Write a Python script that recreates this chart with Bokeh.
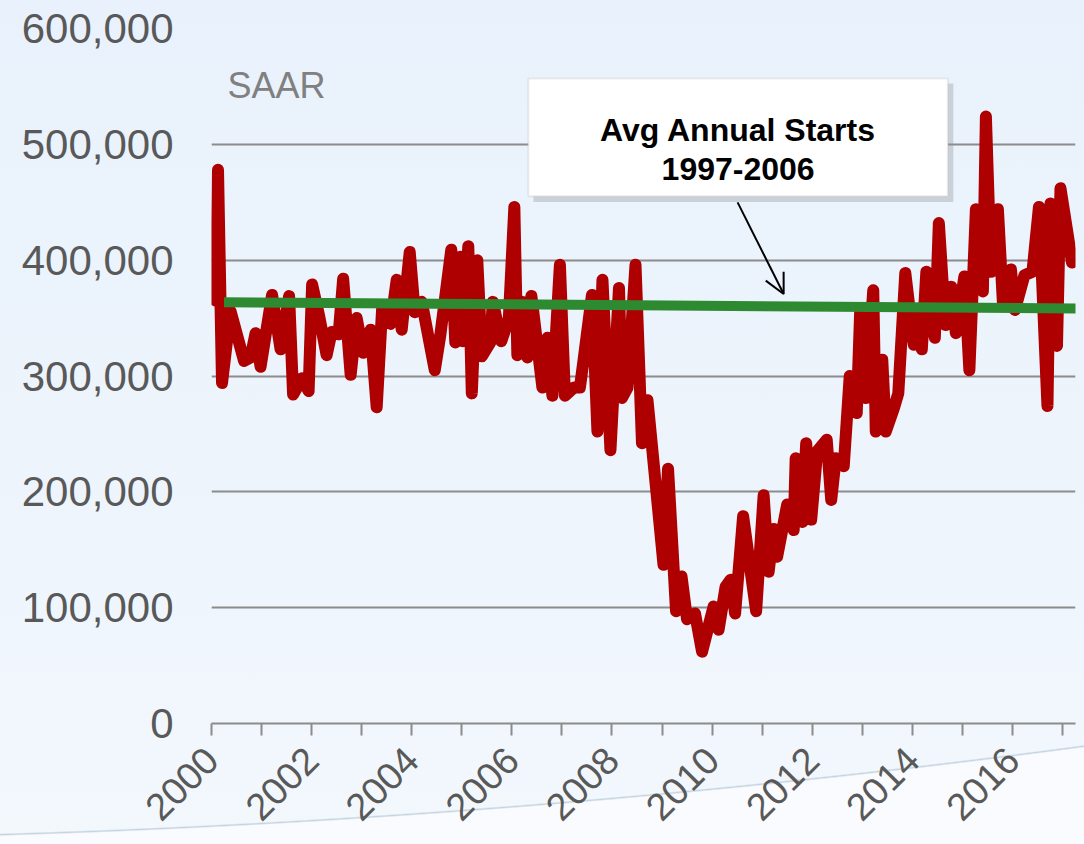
import math
from bokeh.plotting import figure
from bokeh.models import (Range1d, FixedTicker, NumeralTickFormatter, Label,
                          BoxAnnotation, Arrow, OpenHead)
from bokeh.embed import file_html
from bokeh.resources import INLINE

# ---- data ----
dates = [2000.08, 2000.13, 2000.21, 2000.38, 2000.65, 2000.78, 2000.88, 2000.98,
         2001.21, 2001.38, 2001.55, 2001.63, 2001.81, 2001.94, 2002.01, 2002.15,
         2002.30, 2002.40, 2002.54, 2002.63, 2002.78, 2002.90, 2003.03, 2003.18,
         2003.30, 2003.41, 2003.58, 2003.70, 2003.80, 2003.96, 2004.06, 2004.20,
         2004.46, 2004.57, 2004.79, 2004.87, 2004.97, 2005.02, 2005.13, 2005.20,
         2005.31, 2005.40, 2005.57, 2005.62, 2005.79, 2005.94, 2006.05, 2006.11,
         2006.21, 2006.31, 2006.39, 2006.61, 2006.71, 2006.81, 2006.96, 2007.06,
         2007.24, 2007.36, 2007.43, 2007.60, 2007.71, 2007.81, 2007.97, 2008.14,
         2008.20, 2008.31, 2008.47, 2008.60, 2008.71, 2009.03, 2009.12, 2009.28,
         2009.39, 2009.50, 2009.66, 2009.80, 2010.03, 2010.13, 2010.27, 2010.37,
         2010.46, 2010.62, 2010.88, 2011.03, 2011.13, 2011.23, 2011.30, 2011.50,
         2011.63, 2011.67, 2011.80, 2011.88, 2011.98, 2012.10, 2012.29, 2012.38,
         2012.47, 2012.63, 2012.75, 2012.89, 2012.96, 2013.07, 2013.22, 2013.27,
         2013.40, 2013.47, 2013.63, 2013.72, 2013.86, 2014.03, 2014.12, 2014.19,
         2014.28, 2014.45, 2014.53, 2014.66, 2014.78, 2014.87, 2015.04, 2015.14,
         2015.27, 2015.41, 2015.47, 2015.57, 2015.71, 2015.81, 2015.97, 2016.05,
         2016.24, 2016.40, 2016.53, 2016.70, 2016.76, 2016.89, 2016.96, 2017.09,
         2017.19]

starts = [365000, 478000, 294000, 356000, 313000, 316000, 337000, 308000,
          370000, 323000, 369000, 284000, 298000, 287000, 379000, 352000,
          318000, 338000, 336000, 384000, 301000, 350000, 320000, 340000,
          273000, 359000, 345000, 383000, 340000, 407000, 355000, 364000,
          305000, 335000, 409000, 329000, 403000, 330000, 412000, 285000,
          400000, 317000, 329000, 364000, 330000, 350000, 446000, 318000,
          364000, 316000, 369000, 290000, 333000, 283000, 396000, 283000,
          290000, 290000, 313000, 370000, 252000, 383000, 236000, 376000,
          281000, 290000, 396000, 242000, 279000, 137000, 220000, 97000,
          127000, 90000, 95000, 62000, 101000, 81000, 118000, 124000,
          95000, 179000, 97000, 197000, 131000, 168000, 144000, 189000,
          167000, 229000, 174000, 242000, 176000, 235000, 245000, 193000,
          229000, 222000, 300000, 268000, 358000, 281000, 374000, 252000,
          314000, 252000, 272000, 285000, 389000, 327000, 358000, 323000,
          390000, 333000, 432000, 344000, 377000, 337000, 386000, 305000,
          444000, 373000, 524000, 390000, 444000, 363000, 392000, 357000,
          387000, 390000, 446000, 274000, 449000, 326000, 462000, 426000,
          398000]

avg_x = [2000.25, 2017.45]
avg_y = [363700, 358200]

year_ticks = [2000, 2002, 2004, 2006, 2008, 2010, 2012, 2014, 2016]
odd_year_ticks = [2001, 2003, 2005, 2007, 2009, 2011, 2013, 2015, 2017]
y_ticks = [0, 100000, 200000, 300000, 400000, 500000, 600000]

FONT = "Liberation Sans"
GRID = "#8C8C8C"
LABEL = "#595959"

p = figure(width=1084, height=844,
           x_range=Range1d(2000, 2017.26), y_range=Range1d(0, 600000),
           output_backend="svg", toolbar_location=None,
           min_border_left=211, min_border_right=9,
           min_border_top=28, min_border_bottom=121,
           background_fill_color=None, border_fill_color=None,
           outline_line_color=None)
p.styles = {"background": (
    "radial-gradient(circle 10630px at -321px -9789px, rgba(255,255,255,0) 10627px, "
    "#C4D3E0 10628.5px, #F9FBFE 10630px, #F9FBFE 10700px), "
    "linear-gradient(180deg, #E9F2FC 0%, #EDF4FC 55%, #F3F8FD 100%)")}

# grid
p.xgrid.grid_line_color = None
p.ygrid.ticker = FixedTicker(ticks=y_ticks)
p.ygrid.grid_line_color = GRID
p.ygrid.grid_line_width = 2

# y axis
p.yaxis.ticker = FixedTicker(ticks=y_ticks)
p.yaxis.formatter = NumeralTickFormatter(format="0,0")
p.yaxis.axis_line_color = None
p.yaxis.major_tick_line_color = None
p.yaxis.minor_tick_line_color = None
p.yaxis.major_tick_out = 0
p.yaxis.major_tick_in = 0
p.yaxis.major_label_standoff = 38
p.yaxis.major_label_text_font = FONT
p.yaxis.major_label_text_font_size = "42px"
p.yaxis.major_label_text_color = LABEL

# x axis
p.xaxis.ticker = FixedTicker(ticks=year_ticks, minor_ticks=odd_year_ticks)
p.xaxis.axis_line_color = GRID
p.xaxis.axis_line_width = 2
p.xaxis.major_tick_line_color = GRID
p.xaxis.major_tick_line_width = 2
p.xaxis.minor_tick_line_color = GRID
p.xaxis.minor_tick_line_width = 2
p.xaxis.major_tick_in = 0
p.xaxis.major_tick_out = 12
p.xaxis.minor_tick_in = 0
p.xaxis.minor_tick_out = 12
p.xaxis.major_label_orientation = math.pi / 4
p.xaxis.major_label_standoff = 18
p.xaxis.major_label_text_font = FONT
p.xaxis.major_label_text_font_size = "38px"
p.xaxis.major_label_text_color = LABEL

# series
p.line(dates, starts, line_color="#AE0000", line_width=12,
       line_join="round", line_cap="round")
p.line(avg_x, avg_y, line_color="#2E8A30", line_width=10, line_cap="butt")

# SAAR note
p.add_layout(Label(x=2000.32, y=551000, text="SAAR", text_font=FONT,
                   text_font_size="36px", text_color="#808080",
                   text_baseline="alphabetic", text_align="left"))

# callout box with shadow
p.add_layout(BoxAnnotation(left=2006.43, right=2014.82, top=552500, bottom=450300,
                           fill_color="#8E9296", fill_alpha=0.35, line_color=None))
p.add_layout(BoxAnnotation(left=2006.33, right=2014.71, top=556800, bottom=455100,
                           fill_color="white", fill_alpha=1.0,
                           line_color="#BFBFBF", line_width=2))
p.add_layout(Label(x=2010.52, y=512100, text="Avg Annual Starts", text_font=FONT,
                   text_font_style="bold", text_font_size="32px", text_color="black",
                   text_align="center", text_baseline="alphabetic"))
p.add_layout(Label(x=2010.52, y=479000, text="1997-2006", text_font=FONT,
                   text_font_style="bold", text_font_size="32px", text_color="black",
                   text_align="center", text_baseline="alphabetic"))
p.add_layout(Arrow(end=OpenHead(size=20, line_width=2, line_color="black"),
                   x_start=2010.51, y_start=449900, x_end=2011.43, y_end=370800,
                   line_width=2, line_color="black"))

open("out.html", "w").write(file_html(p, INLINE))
